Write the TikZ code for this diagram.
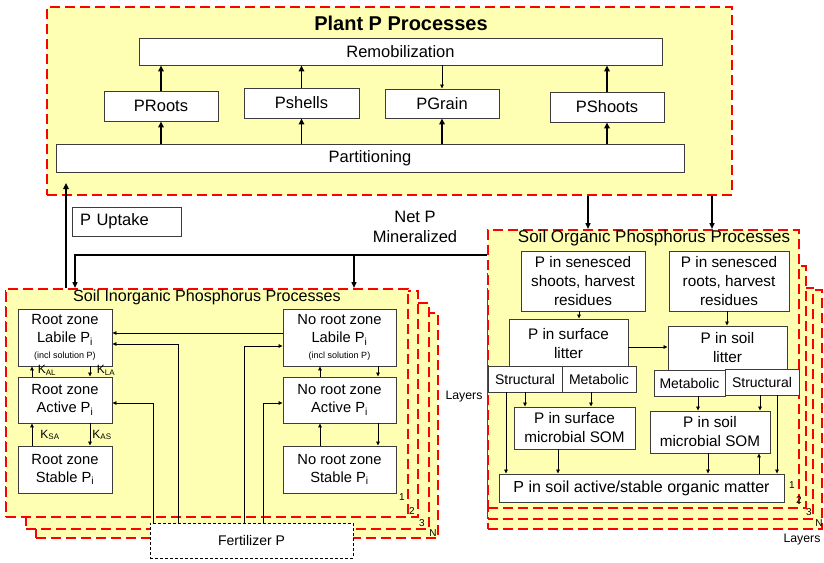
\documentclass[tikz,border=0pt]{standalone}
\usepackage{fontspec}
\setmainfont{Liberation Sans}
\usetikzlibrary{arrows.meta}
\definecolor{ybg}{RGB}{255,255,180}
\definecolor{bgray}{RGB}{60,60,60}
\newcommand\fsz[2]{\fontsize{#1}{#2}\selectfont}
\begin{document}
\begin{tikzpicture}[x=1pt,y=-1pt,
  lay/.style={draw=red, line width=2.2pt, dash pattern=on 10pt off 5pt, fill=ybg, inner sep=0pt, anchor=north west},
  bx/.style={draw=bgray, fill=white, line width=0.9pt, inner sep=1pt, align=center},
  thk/.style={line width=1.9pt, -{Triangle[length=6pt,width=5.5pt]}},
  mid/.style={line width=1.4pt, -{Triangle[length=6pt,width=5pt]}},
  thn/.style={line width=0.8pt, -{Triangle[length=4pt,width=3.6pt]}},
  ptxt/.style={font=\fsz{16.5}{20}},
  itxt/.style={font=\fsz{14.7}{18}},
  otxt/.style={font=\fsz{15.3}{19}},
  sm/.style={font=\fsz{14}{16}},
  num/.style={font=\fsz{10}{12}},
  klab/.style={font=\fsz{12}{14}, inner sep=0pt}]
\fill[white] (0,0) rectangle (824,562);
\useasboundingbox (0,0) rectangle (824,562);

% ---------- Plant P processes ----------
\node[lay, minimum width=685pt, minimum height=188pt] (plant) at (46,6) {};
\node[font=\bfseries\fsz{20}{24}] (ptitle) at (401,23) {Plant P Processes};
\node[bx, ptxt, minimum width=523pt, minimum height=27pt] (remob) at (400.5,51.5) {Remobilization};
\node[bx, ptxt, minimum width=114pt, minimum height=30pt] (proots) at (161,106) {PRoots};
\node[bx, ptxt, minimum width=115pt, minimum height=30pt] (pshells) at (301.5,103) {Pshells};
\node[bx, ptxt, minimum width=114pt, minimum height=29pt] (pgrain) at (442,103.5) {PGrain};
\node[bx, ptxt, minimum width=114pt, minimum height=30pt] (pshoots) at (607,107) {PShoots};
\node[bx, ptxt, minimum width=628pt, minimum height=28pt] (part) at (370,158) {Partitioning};

\draw[thk] (proots |- part.north) -- (proots.south);
\draw[thk] (proots.north) -- (proots |- remob.south);
\draw[thk] (pshells |- part.north) -- (pshells.south);
\draw[thk] (pshells.north) -- (pshells |- remob.south);
\draw[thk] (pgrain |- part.north) -- (pgrain.south);
\draw[thn] (pgrain |- remob.south) -- (pgrain.north);
\draw[thk] (pshoots |- part.north) -- (pshoots.south);
\draw[thk] (pshoots.north) -- (pshoots |- remob.south);

% ---------- Soil inorganic layers ----------
\node[lay, minimum width=402pt, minimum height=225pt] (iL4) at (35,312) {};
\node[lay, minimum width=403pt, minimum height=226pt] (iL3) at (25,302) {};
\node[lay, minimum width=412pt, minimum height=226pt] (iL2) at (5,290) {};
\node[lay, minimum width=402pt, minimum height=228pt] (iL1) at (5,288) {};
\node[num] (in1) at (402,497) {1};
\node[num] (in2) at (412,511) {2};
\node[num] (in3) at (422,523) {3};
\node[num] (inN) at (433,533) {N};
\node[font=\fsz{16.1}{19}] (ititle) at (207,297) {Soil Inorganic Phosphorus Processes};

\node[bx, itxt, minimum width=94pt, minimum height=57pt] (rlab) at (65,337.5)
  {Root zone\\Labile P\textsubscript{i}\\[-2pt]{\fsz{9}{10}(incl solution P)}};
\node[bx, itxt, minimum width=113pt, minimum height=57pt] (nlab) at (339.5,337.5)
  {No root zone\\Labile P\textsubscript{i}\\[-2pt]{\fsz{9}{10}(incl solution P)}};
\node[bx, itxt, minimum width=94pt, minimum height=46pt] (ract) at (65,400) {Root zone\\Active P\textsubscript{i}};
\node[bx, itxt, minimum width=113pt, minimum height=46pt] (nact) at (339.5,400) {No root zone\\Active P\textsubscript{i}};
\node[bx, itxt, minimum width=94pt, minimum height=47pt] (rsta) at (65,469.5) {Root zone\\Stable P\textsubscript{i}};
\node[bx, itxt, minimum width=113pt, minimum height=47pt] (nsta) at (339.5,469.5) {No root zone\\Stable P\textsubscript{i}};

\coordinate (xa) at (32,0); \coordinate (xb) at (90,0);
\coordinate (xc) at (320,0); \coordinate (xd) at (378,0);
\draw[thn] (xa |- ract.north) -- (xa |- rlab.south);
\draw[thn] (xb |- rlab.south) -- (xb |- ract.north);
\draw[thn] (xa |- rsta.north) -- (xa |- ract.south);
\draw[thn] (xb |- ract.south) -- (xb |- rsta.north);
\draw[thn] (xc |- nact.north) -- (xc |- nlab.south);
\draw[thn] (xd |- nlab.south) -- (xd |- nact.north);
\draw[thn] (xc |- nsta.north) -- (xc |- nact.south);
\draw[thn] (xd |- nact.south) -- (xd |- nsta.north);
\node[klab] (kal) at (47,370) {K\textsubscript{AL}};
\node[klab] (kla) at (106,370) {K\textsubscript{LA}};
\node[klab] (ksa) at (50,435) {K\textsubscript{SA}};
\node[klab] (kas) at (102,435) {K\textsubscript{AS}};

\coordinate (h1) at (0,333);
\draw[thn] (nlab.west |- h1) -- (rlab.east |- h1);

\node[draw=black, line width=0.6pt, dash pattern=on 3pt off 2pt, fill=white, sm,
      minimum width=203pt, minimum height=35pt, inner sep=0pt] (fert) at (251.5,540.5) {Fertilizer P};
\coordinate (f1) at (178,344);
\coordinate (f2) at (153,403);
\coordinate (f3) at (244,346);
\coordinate (f4) at (263,403);
\draw[thn] (f1 |- fert.north) -- (f1) -- (rlab.east |- f1);
\draw[thn] (f2 |- fert.north) -- (f2) -- (ract.east |- f2);
\draw[thn] (f3 |- fert.north) -- (f3) -- (nlab.west |- f3);
\draw[thn] (f4 |- fert.north) -- (f4) -- (nact.west |- f4);

\node[font=\fsz{12.3}{14}] (layA) at (464,397) {Layers};

% ---------- Uptake / Net P ----------
\node[bx, ptxt, minimum width=109pt, minimum height=29pt, text width=93pt, align=left, inner xsep=8pt] (uptk) at (126.5,221.5) {P Uptake};
\coordinate (upt) at (66,183);
\draw[thk] (upt |- iL1.north) -- (upt);

% ---------- Soil organic layers ----------
\node[lay, minimum width=334pt, minimum height=239pt] (oL4) at (487,289) {};
\node[lay, minimum width=325pt, minimum height=231pt] (oL3) at (487,287) {};
\node[lay, minimum width=318pt, minimum height=242pt] (oL2) at (487,265) {};
\node[lay, minimum width=311pt, minimum height=278pt] (oL1) at (487,229) {};
\node[num] (on1) at (792,485) {1};
\node[num] (on2) at (799,500) {2};
\node[num] (on3) at (809,512) {3};
\node[num] (onN) at (819,523) {N};
\node[font=\fsz{17}{20}] (otitle) at (654,238) {Soil Organic Phosphorus Processes};
\node[font=\fsz{12.3}{14}] (layB) at (802,540) {Layers};

\node[bx, otxt, minimum width=124pt, minimum height=60pt] (sshoot) at (583,281) {P in senesced\\shoots, harvest\\residues};
\node[bx, otxt, minimum width=120pt, minimum height=60pt] (sroot) at (729,281) {P in senesced\\roots, harvest\\residues};
\node[bx, otxt, minimum width=119pt, minimum height=49pt] (slit) at (568.5,343.5) {P in surface\\litter};
\node[bx, otxt, minimum width=119pt, minimum height=44pt] (llit) at (727.5,348) {P in soil\\litter};
\node[bx, sm, minimum width=74pt, minimum height=26pt] (sstr) at (525,379) {Structural};
\node[bx, sm, minimum width=74pt, minimum height=26pt] (smet) at (599,379) {Metabolic};
\node[bx, sm, minimum width=71pt, minimum height=26pt] (lmet) at (689.5,383) {Metabolic};
\node[bx, sm, minimum width=74pt, minimum height=26pt] (lstr) at (762,382) {Structural};
\node[bx, otxt, minimum width=121pt, minimum height=42pt] (smic) at (574.5,428) {P in surface\\microbial SOM};
\node[bx, otxt, minimum width=120pt, minimum height=42pt] (lmic) at (710,432) {P in soil\\microbial SOM};
\node[bx, font=\fsz{16}{19}, minimum width=285pt, minimum height=28pt] (act) at (641.5,488) {P in soil active/stable organic matter};

\coordinate (c1) at (579,0); \coordinate (c2) at (727,0);
\coordinate (h2) at (0,347);
\coordinate (c3) at (506,0); \coordinate (c4) at (525,0); \coordinate (c5) at (591,0);
\coordinate (c6) at (698,0); \coordinate (c7) at (760,0); \coordinate (c8) at (777,0);
\coordinate (c9) at (558,0); \coordinate (c10) at (708,0); \coordinate (c11) at (759,0);
\draw[thn] (c1 |- sshoot.south) -- (c1 |- slit.north);
\draw[thn] (c2 |- sroot.south) -- (c2 |- llit.north);
\draw[thn] (slit.east |- h2) -- (llit.west |- h2);
\draw[thn] (c3 |- sstr.south) -- (c3 |- act.north);
\draw[thn] (c4 |- sstr.south) -- (c4 |- smic.north);
\draw[thn] (c5 |- smet.south) -- (c5 |- smic.north);
\draw[thn] (c6 |- lmet.south) -- (c6 |- lmic.north);
\draw[thn] (c7 |- lstr.south) -- (c7 |- lmic.north);
\draw[thn] (c8 |- lstr.south) -- (c8 |- act.north);
\draw[thn] (c9 |- smic.south) -- (c9 |- act.north);
\draw[thn] (c10 |- lmic.south) -- (c10 |- act.north);
\draw[thn] (c11 |- act.north) -- (c11 |- lmic.south);

% ---------- connectors between groups ----------
\coordinate (o1) at (588,0); \coordinate (o2) at (712,0);
\draw[mid] (o1 |- plant.south) -- (o1 |- oL1.north);
\draw[mid] (o2 |- plant.south) -- (o2 |- oL1.north);

\node[ptxt, align=center] (netp) at (415,227) {Net P\\Mineralized};
\coordinate (netR) at (487,255);
\coordinate (netL) at (75,255);
\coordinate (netM) at (354,255);
\draw[mid] (netR) -- (netL) -- (netL |- iL1.north);
\draw[mid] (netM) -- (netM |- iL1.north);
\end{tikzpicture}
\end{document}
